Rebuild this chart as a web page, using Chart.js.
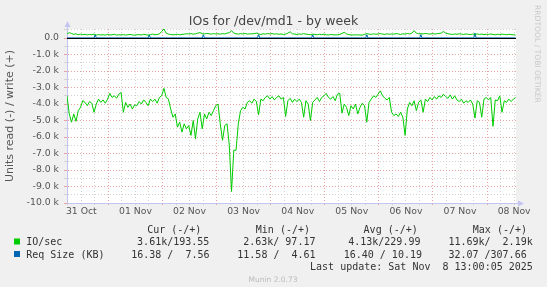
<!DOCTYPE html>
<html>
<head>
<meta charset="utf-8">
<script src="https://cdn.jsdelivr.net/npm/chart.js@4.4.1/dist/chart.umd.min.js"></script>
<style>
  html, body { margin: 0; padding: 0; background: #f0f0f0; }
  canvas { display: block; }
</style>
</head>
<body>
<canvas id="ioChart" width="547" height="287"></canvas>
<script>
// x axis is in days since 31 Oct 00:00, samples are hourly
var startDay = 0.235;
var endDay = 8.535;
var dayLabels = ['31 Oct', '01 Nov', '02 Nov', '03 Nov', '04 Nov', '05 Nov', '06 Nov', '07 Nov', '08 Nov'];
var yMajor = [-10, -9, -8, -7, -6, -5, -4, -3, -2, -1, 0];

// IO/sec in thousands, read is drawn negative
var readIO = [
  -3.5, -4.6, -5.1, -4.6, -5.05, -4.4, -4.2, -3.8, -3.9, -4.1, -3.85, -3.95, -4.5, -4.0, -3.7, -3.9, -3.75, -3.95, -3.7, -3.35, -3.6, -3.5, -3.65, -3.4,
  -3.3, -4.5, -3.9, -4.2, -4.0, -4.3, -4.05, -4.1, -3.85, -4.0, -3.75, -3.9, -4.1, -3.7, -3.85, -3.7, -3.95, -3.6, -3.5, -3.05, -3.6, -3.7, -4.3, -4.8,
  -4.6, -5.4, -5.1, -5.7, -5.2, -5.5, -5.3, -5.9, -5.0, -6.1, -4.9, -4.5, -5.5, -4.6, -4.9, -4.5, -4.7, -4.4, -4.1, -4.0, -5.2, -6.2, -5.3, -5.2,
  -6.5, -9.3, -6.8, -6.8, -5.2, -4.4, -4.2, -4.3, -3.9, -3.8, -3.95, -3.7, -3.85, -4.65, -3.7, -3.8, -3.6, -3.5, -3.7, -3.55, -3.75, -3.6, -3.5, -3.7,
  -3.6, -4.75, -3.8, -3.65, -3.9, -3.7, -3.85, -3.7, -3.9, -4.8, -3.8, -4.0, -5.0, -3.9, -3.75, -3.6, -3.85, -3.6, -3.5, -3.35, -3.6, -3.7, -3.55, -3.8,
  -3.4, -3.35, -4.55, -4.0, -4.2, -4.7, -4.1, -4.3, -4.0, -4.6, -4.2, -3.95, -4.1, -5.1, -3.9, -3.7, -3.5, -3.6, -3.4, -3.2, -3.5, -3.65, -3.75, -3.6,
  -4.5, -4.7, -4.6, -4.75, -4.5, -4.8, -5.9, -4.3, -3.9, -4.1, -3.8, -4.4, -3.9, -3.75, -4.5, -3.7, -3.85, -3.6, -3.75, -3.55, -3.7, -3.5, -3.6, -3.4,
  -3.55, -3.65, -3.45, -3.7, -3.5, -3.75, -3.85, -3.7, -3.95, -3.8, -3.9, -3.75, -4.0, -4.85, -3.8, -3.9, -4.8, -3.7, -3.6, -3.75, -3.6, -5.35, -3.75, -3.8,
  -3.5, -4.5, -3.8, -3.9, -3.7, -3.85, -3.7, -3.61
];
var writeIO = [
  0.25, 0.33, 0.28, 0.22, 0.26, 0.2, 0.24, 0.21, 0.23, 0.19, 0.22, 0.2, 0.24, 0.18, 0.21, 0.19, 0.2, 0.18, 0.22, 0.19, 0.2, 0.23, 0.18, 0.2,
  0.19, 0.21, 0.18, 0.2, 0.22, 0.19, 0.18, 0.2, 0.21, 0.19, 0.23, 0.2, 0.18, 0.21, 0.24, 0.2, 0.22, 0.25, 0.4, 0.55, 0.3, 0.24, 0.22, 0.2,
  0.21, 0.23, 0.2, 0.22, 0.24, 0.26, 0.25, 0.27, 0.24, 0.26, 0.3, 0.33, 0.27, 0.25, 0.28, 0.26, 0.24, 0.27, 0.25, 0.26, 0.24, 0.27, 0.25, 0.3,
  0.32, 0.45, 0.3, 0.26, 0.24, 0.27, 0.25, 0.28, 0.24, 0.26, 0.25, 0.27, 0.3, 0.25, 0.22, 0.26, 0.24, 0.28, 0.25, 0.27, 0.24, 0.26, 0.23, 0.25,
  0.22, 0.24, 0.3, 0.38, 0.26, 0.24, 0.22, 0.25, 0.23, 0.27, 0.24, 0.22, 0.2, 0.24, 0.22, 0.2, 0.23, 0.21, 0.24, 0.2, 0.19, 0.22, 0.2, 0.19,
  0.2, 0.22, 0.28, 0.35, 0.25, 0.21, 0.19, 0.19, 0.2, 0.19, 0.19, 0.18, 0.22, 0.27, 0.24, 0.22, 0.26, 0.23, 0.25, 0.27, 0.24, 0.22, 0.26, 0.23,
  0.25, 0.24, 0.27, 0.25, 0.22, 0.26, 0.24, 0.28, 0.25, 0.3, 0.45, 0.3, 0.26, 0.27, 0.25, 0.28, 0.26, 0.24, 0.27, 0.25, 0.26, 0.28, 0.3, 0.4,
  0.3, 0.26, 0.24, 0.22, 0.25, 0.23, 0.26, 0.24, 0.22, 0.25, 0.23, 0.21, 0.24, 0.22, 0.25, 0.22, 0.24, 0.21, 0.23, 0.22, 0.25, 0.22, 0.2, 0.23,
  0.21, 0.24, 0.22, 0.2, 0.23, 0.21, 0.2, 0.19
];

// Req Size (KB) in thousands, hours after start
var reqWriteHours = [0, 12, 12.5, 13, 36, 36.5, 37, 60, 60.5, 61, 84.5, 85, 85.5, 108.5, 109, 109.5, 132.5, 133, 133.5, 156.5, 157, 157.5, 180.5, 181, 181.5, 199];
var reqWrite = [0.0076, 0.0076, 0.2, 0.0076, 0.0076, 0.19, 0.0076, 0.0076, 0.2, 0.0076, 0.0076, 0.21, 0.0076, 0.0076, 0.2, 0.0076, 0.0076, 0.2, 0.0076, 0.0076, 0.21, 0.0076, 0.0076, 0.31, 0.0076, 0.0076];
var reqReadHours = [0, 199];
var reqRead = [-0.0164, -0.0164];

var statHeaders = ['Cur (-/+)', 'Min (-/+)', 'Avg (-/+)', 'Max (-/+)'];
var ioStats = ['3.61k/193.55', '2.63k/ 97.17', '4.13k/229.99', '11.69k/  2.19k'];
var reqStats = ['16.38 /  7.56', '11.58 /  4.61', '16.40 / 10.19', '32.07 /307.66'];
var lastUpdate = 'Last update: Sat Nov  8 13:00:05 2025';

function hourly(values) {
  return values.map(function (v, i) { return { x: startDay + i / 24, y: v }; });
}
function byHours(hours, values) {
  return hours.map(function (h, i) { return { x: startDay + h / 24, y: values[i] }; });
}

var majorGrid = '#e8a2a2';
var minorGrid = '#d2d2d2';
var axisColor = '#c4c4f0';

var munin = {
  id: 'munin',
  beforeDraw: function (chart) {
    var c = chart.ctx, a = chart.chartArea;
    c.save();
    c.fillStyle = '#f0f0f0';
    c.fillRect(0, 0, chart.width, chart.height);
    c.fillStyle = '#ffffff';
    c.fillRect(a.left, a.top, a.right - a.left, a.bottom - a.top);
    c.restore();
  },
  afterDatasetsDraw: function (chart) {
    // black zero rule sits on top of the near-zero Req Size lines
    var c = chart.ctx, a = chart.chartArea;
    var y0 = Math.round(chart.scales.y.getPixelForValue(0)) + 0.5;
    c.save();
    c.strokeStyle = '#000000';
    c.lineWidth = 1;
    c.beginPath();
    c.moveTo(a.left, y0);
    c.lineTo(a.right, y0);
    c.stroke();
    c.restore();
  },
  afterDraw: function (chart) {
    var c = chart.ctx, a = chart.chartArea;
    c.save();
    // axis arrows
    c.fillStyle = axisColor;
    c.strokeStyle = axisColor;
    c.beginPath();
    c.moveTo(a.left + 0.5, a.top);
    c.lineTo(a.left + 0.5, a.top - 3);
    c.stroke();
    c.beginPath();
    c.moveTo(a.left - 2.5, a.top - 2);
    c.lineTo(a.left + 3.5, a.top - 2);
    c.lineTo(a.left + 0.5, a.top - 8);
    c.closePath();
    c.fill();
    c.beginPath();
    c.moveTo(a.right, a.bottom + 0.5);
    c.lineTo(a.right + 2, a.bottom + 0.5);
    c.stroke();
    c.beginPath();
    c.moveTo(a.right + 2, a.bottom - 2.5);
    c.lineTo(a.right + 2, a.bottom + 3.5);
    c.lineTo(a.right + 8, a.bottom + 0.5);
    c.closePath();
    c.fill();

    // title
    c.fillStyle = '#444444';
    c.font = '12.5px "DejaVu Sans"';
    c.textAlign = 'center';
    c.textBaseline = 'alphabetic';
    c.fillText('IOs for /dev/md1 - by week', 273.5, 25);

    // legend table
    c.font = '10px "DejaVu Sans Mono"';
    c.textAlign = 'left';
    c.fillStyle = '#333333';
    var headX = [147.2, 255.8, 363.6, 472.8];
    var ioX = [137.1, 243.2, 348.2, 448.4];
    var reqX = [131.2, 237.3, 343.7, 448.4];
    statHeaders.forEach(function (t, i) { c.fillText(t, headX[i], 232.5); });
    c.fillText('IO/sec', 26.2, 245.3);
    ioStats.forEach(function (t, i) { c.fillText(t, ioX[i], 245.3); });
    c.fillText('Req Size (KB)', 26.2, 257.8);
    reqStats.forEach(function (t, i) { c.fillText(t, reqX[i], 257.8); });
    c.textAlign = 'right';
    c.fillText(lastUpdate, 532.8, 269.8);
    c.fillStyle = '#00cc00';
    c.fillRect(14, 238.5, 6, 6);
    c.fillStyle = '#0066b3';
    c.fillRect(14, 251, 6, 6);

    // footer and side credit
    c.fillStyle = '#bbbbbb';
    c.font = '7.5px "DejaVu Sans"';
    c.textAlign = 'center';
    c.fillText('Munin 2.0.73', 273, 282.3);
    c.translate(537, 5);
    c.rotate(Math.PI / 2);
    c.textAlign = 'left';
    c.textBaseline = 'middle';
    c.fillStyle = '#c8c8c8';
    c.font = '7.6px "DejaVu Sans"';
    c.fillText('RRDTOOL / TOBI OETIKER', 0, 0);
    c.restore();
  }
};

var ctx = document.getElementById('ioChart').getContext('2d');
var ioChart = new Chart(ctx, {
  type: 'line',
  data: {
    datasets: [
      { label: 'IO/sec read', data: hourly(readIO), borderColor: '#00cc00', borderWidth: 1, pointRadius: 0, tension: 0 },
      { label: 'IO/sec write', data: hourly(writeIO), borderColor: '#00cc00', borderWidth: 1, pointRadius: 0, tension: 0 },
      { label: 'Req Size read', data: byHours(reqReadHours, reqRead), borderColor: '#0066b3', borderWidth: 1, pointRadius: 0, tension: 0 },
      { label: 'Req Size write', data: byHours(reqWriteHours, reqWrite), borderColor: '#0066b3', borderWidth: 1, pointRadius: 0, tension: 0 }
    ]
  },
  options: {
    responsive: false,
    animation: false,
    devicePixelRatio: 1,
    layout: { padding: { left: 0, top: 29, right: 31, bottom: 64 } },
    plugins: { legend: { display: false }, tooltip: { enabled: false } },
    scales: {
      x: {
        type: 'linear',
        min: startDay,
        max: endDay,
        afterBuildTicks: function (scale) {
          var t = [];
          for (var q = 1; q <= 34; q++) t.push({ value: q / 4 });
          scale.ticks = t;
        },
        afterFit: function (scale) { scale.height = 20; },
        ticks: {
          autoSkip: false,
          maxRotation: 0,
          padding: 1,
          color: '#555555',
          font: { family: 'DejaVu Sans', size: 9.3 },
          callback: function (v) {
            var d = v - 0.5;
            return (d % 1 === 0 && dayLabels[d] !== undefined) ? dayLabels[d] : '';
          }
        },
        grid: {
          tickLength: 2,
          color: function (c) { return c.tick && c.tick.value % 1 === 0 ? majorGrid : minorGrid; }
        },
        border: { display: true, color: axisColor, dash: [1, 2] }
      },
      y: {
        type: 'linear',
        min: -10,
        max: 0.55,
        afterBuildTicks: function (scale) {
          var t = [];
          yMajor.forEach(function (v) {
            t.push({ value: v });
            t.push({ value: v + 0.5 });
          });
          scale.ticks = t;
        },
        afterFit: function (scale) { scale.width = 67; },
        title: {
          display: true,
          text: 'Units read (-) / write (+)',
          color: '#555555',
          font: { family: 'DejaVu Sans', size: 11 },
          padding: { top: 4, bottom: 0 }
        },
        ticks: {
          autoSkip: false,
          padding: 5,
          color: '#555555',
          font: { family: 'DejaVu Sans', size: 9.3 },
          callback: function (v) {
            if (yMajor.indexOf(v) < 0) return '';
            return v === 0 ? '0.0' : v.toFixed(1) + ' k';
          }
        },
        grid: {
          tickLength: 3,
          color: function (c) { return c.tick && c.tick.value % 1 === 0 ? majorGrid : minorGrid; }
        },
        border: { display: true, color: axisColor, dash: [1, 2] }
      }
    }
  },
  plugins: [munin]
});
</script>
</body>
</html>
